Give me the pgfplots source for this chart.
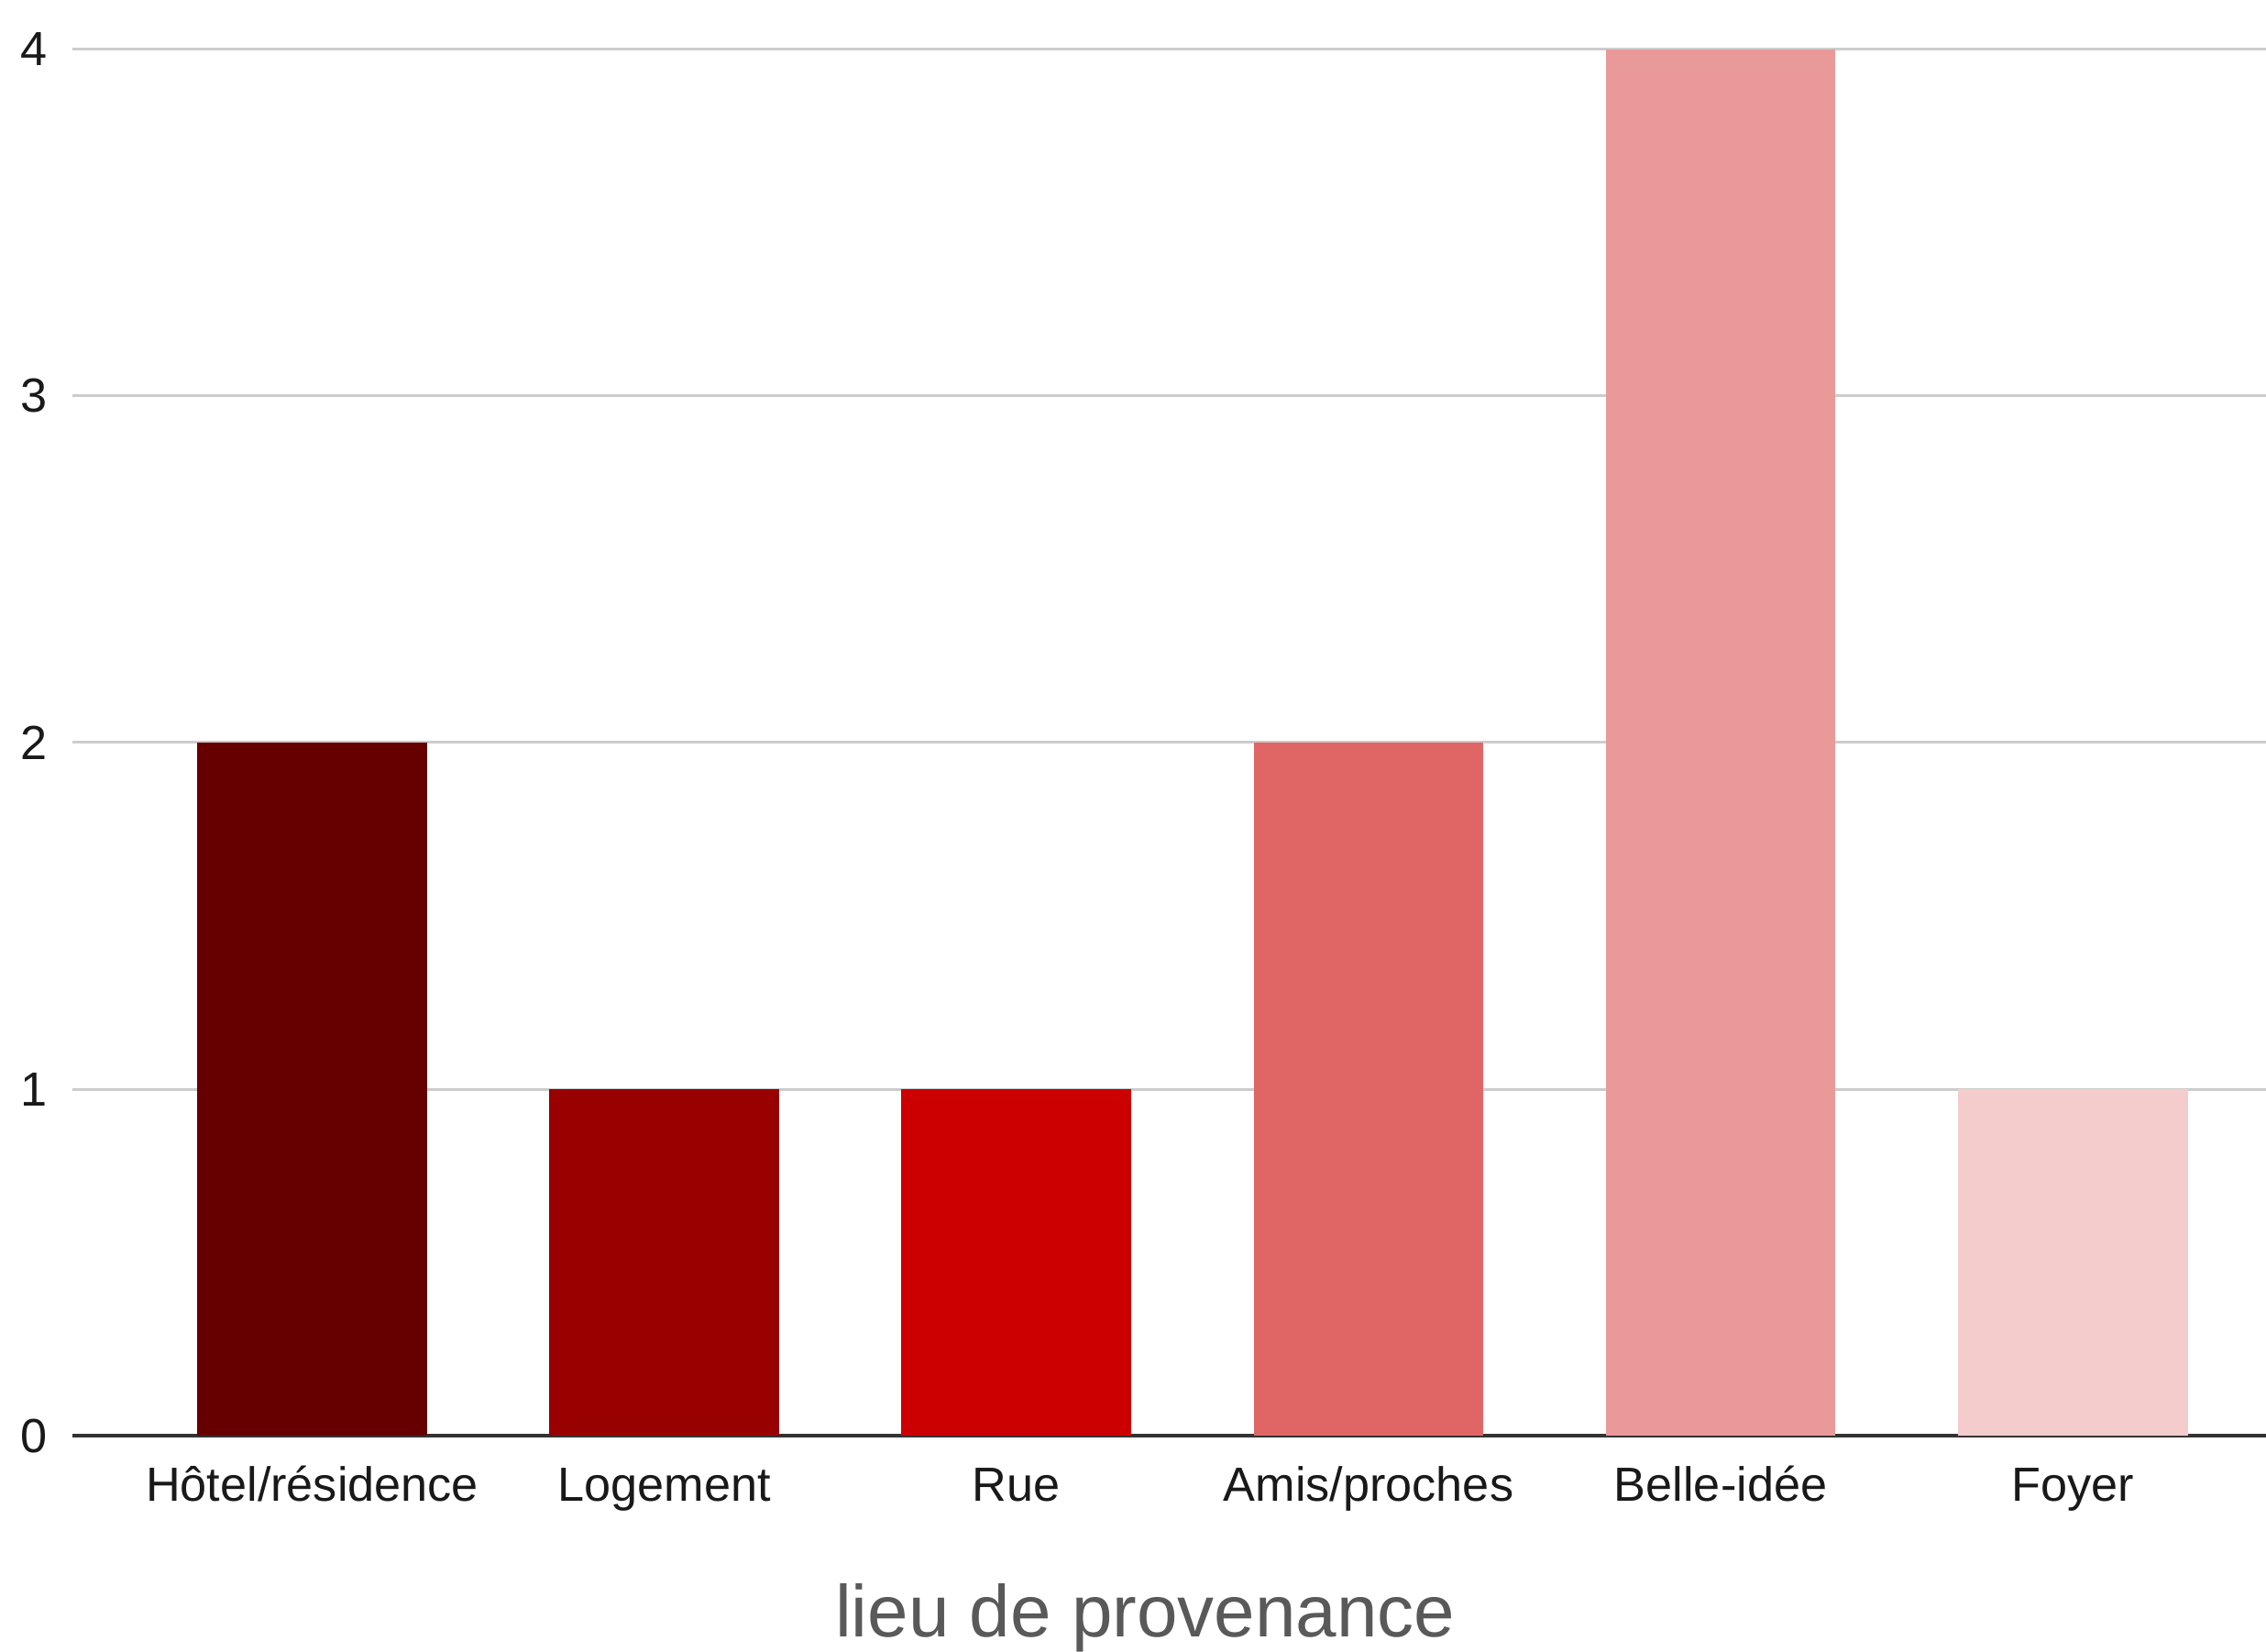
\documentclass[border=0pt]{standalone}
\usepackage{fontspec}
\setmainfont{Liberation Sans}
\usepackage{pgfplots}
\pgfplotsset{compat=1.18}

\definecolor{barA}{HTML}{660000}
\definecolor{barB}{HTML}{990000}
\definecolor{barC}{HTML}{CC0000}
\definecolor{barD}{HTML}{E06666}
\definecolor{barE}{HTML}{EA9999}
\definecolor{barF}{HTML}{F4CCCC}
\definecolor{gridgrey}{HTML}{CCCCCC}
\definecolor{titlegrey}{HTML}{595959}

\begin{document}
\begin{tikzpicture}
\begin{axis}[
    scale only axis,
    width=478.6pt,
    height=302.5pt,
    xmin=-0.681, xmax=5.549,
    ymin=0, ymax=4,
    ybar, bar width=0.653, bar shift=0pt,
    axis x line*=bottom,
    axis y line*=left,
    x axis line style={draw=black!80, line width=0.7pt},
    y axis line style={draw=none},
    major tick length=0pt,
    ytick={0,1,2,3,4},
    ymajorgrids,
    grid style={draw=gridgrey, line width=0.6pt},
    xtick={0,1,2,3,4,5},
    xticklabels={Hôtel/résidence, Logement, Rue, Amis/proches, Belle-idée, Foyer},
    /pgf/number format/assume math mode=true,
    tick label style={font=\fontsize{10.45pt}{12.5pt}\selectfont, text=black!90},
    xticklabel style={anchor=base, yshift=-14.2pt},
    yticklabel style={anchor=east, xshift=-1.9pt},
    xlabel={lieu de provenance},
    xlabel style={at={(rel axis cs:0.489,0)}, anchor=base, yshift=-43.8pt,
                  font=\fontsize{16pt}{19pt}\selectfont, text=titlegrey},
]
\addplot[fill=barA, draw=none] coordinates {(0,2)};
\addplot[fill=barB, draw=none] coordinates {(1,1)};
\addplot[fill=barC, draw=none] coordinates {(2,1)};
\addplot[fill=barD, draw=none] coordinates {(3,2)};
\addplot[fill=barE, draw=none] coordinates {(4,4)};
\addplot[fill=barF, draw=none] coordinates {(5,1)};
\coordinate (bl) at (rel axis cs:0,0);
\coordinate (tr) at (rel axis cs:1,1);
\end{axis}
\pgfresetboundingbox
\path ([xshift=-15.8pt,yshift=-47pt]bl) rectangle ([yshift=10.74pt]tr);
\end{tikzpicture}
\end{document}
